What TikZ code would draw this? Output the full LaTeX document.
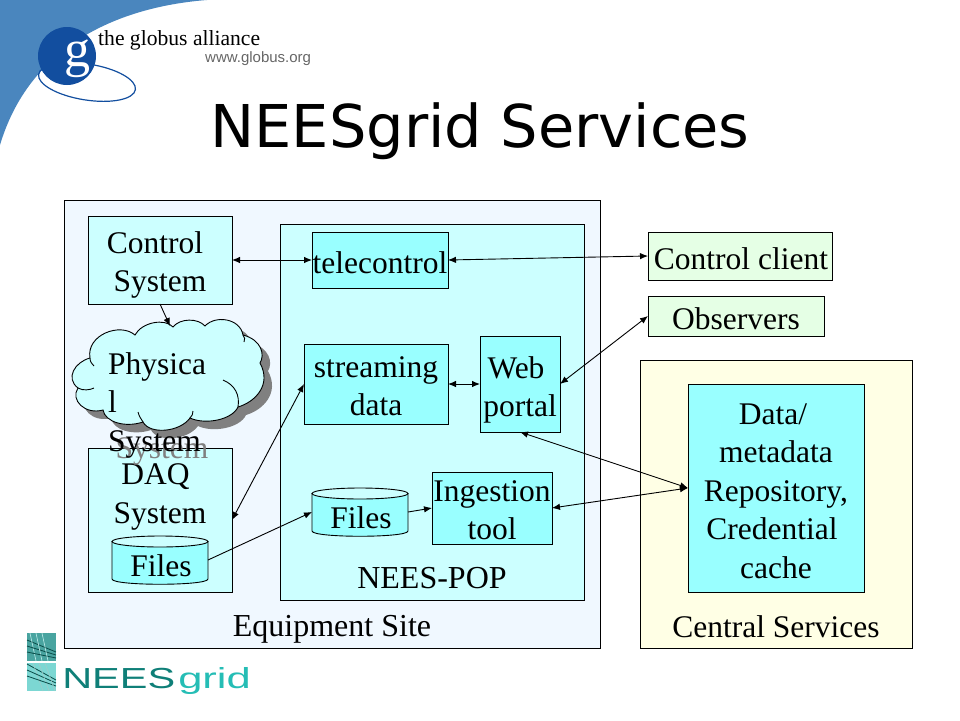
\documentclass[tikz,border=0pt]{standalone}
\usepackage{fontspec}
\setmainfont{Liberation Serif}
\newfontfamily\titlefont{DejaVu Sans}
\newfontfamily\logofont{Liberation Sans}
\usetikzlibrary{arrows.meta}

\definecolor{sitebg}{HTML}{F0F8FF}
\definecolor{popbg}{HTML}{CCFFFF}
\definecolor{toolbg}{HTML}{99FFFF}
\definecolor{centralbg}{HTML}{FFFFE5}
\definecolor{clientbg}{HTML}{E5FFE5}
\definecolor{swoosh}{HTML}{4A86BE}
\definecolor{globusblue}{HTML}{124E9F}
\definecolor{neesdark}{HTML}{0F7F78}
\definecolor{neeslight}{HTML}{25BDB5}

\tikzset{
  box/.style={draw=black,line width=1pt,inner sep=0pt,outer sep=0pt},
  lbl/.style={inner sep=0pt,outer sep=0pt,align=center,font=\fontsize{31.5pt}{38.5pt}\selectfont},
  lblwide/.style={lbl,font=\fontsize{32pt}{38.5pt}\selectfont},
  link/.style={line width=0.9pt,>={Latex[length=8pt,width=6.5pt]}}
}

% file store: name, centre x, centre y
\newcommand{\filedrum}[3]{
  \draw[line width=0.9pt,fill=toolbg] (#2-48,#3-18.5) -- (#2-48,#3+19)
    .. controls (#2-48,#3+26) and (#2+48,#3+26) .. (#2+48,#3+19) -- (#2+48,#3-18.5) -- cycle;
  \draw[line width=0.9pt,fill=popbg] (#2,#3-18.5) ellipse [x radius=48,y radius=5.5];
  \node[inner sep=0pt,outer sep=0pt,minimum width=96pt,minimum height=48pt] (#1) at (#2,#3) {};
  \node[lbl] (#1txt) at (#2+1,#3+6) {Files};
}

\def\cloudoutline{(90,358) .. controls (86,335) and (120,322) .. (135,335)
  .. controls (142,322) and (165,318) .. (173,327)
  .. controls (180,318) and (198,318) .. (205,326)
  .. controls (215,315) and (240,318) .. (243,335)
  .. controls (262,340) and (265,355) .. (260,363)
  .. controls (272,385) and (255,402) .. (238,407)
  .. controls (232,420) and (205,425) .. (190,418)
  .. controls (180,432) and (150,435) .. (143,422)
  .. controls (125,428) and (105,422) .. (103,410)
  .. controls (85,415) and (70,400) .. (78,388)
  .. controls (65,378) and (75,362) .. (90,358) -- cycle}

\begin{document}
\begin{tikzpicture}[x=1pt,y=-1pt]
  \useasboundingbox (0,0) rectangle (960,720);

  % Globus logo
  \fill[swoosh] (0,0) -- (207,0) .. controls (130,6) and (32,38) .. (0,145) -- cycle;
  \draw[globusblue,line width=1.2pt,rotate around={-9:(87,82)}] (87,82) ellipse [x radius=49,y radius=18];
  \fill[globusblue] (67,56) circle [radius=29];
  \node[inner sep=0pt,text=white,font=\fontsize{52pt}{52pt}\selectfont] (globusg) at (77,59) {g};
  \node[inner sep=0pt,anchor=base west,font=\fontsize{21.6pt}{24pt}\selectfont] (globusname) at (98,45) {the globus alliance};
  \node[inner sep=0pt,anchor=base west,text=black!60,font=\logofont\fontsize{15pt}{15pt}\selectfont] (globusurl) at (205,62) {www.globus.org};

  % Title
  \node[inner sep=0pt,font=\titlefont\fontsize{59pt}{59pt}\selectfont] (title) at (480,131) {NEESgrid Services};

  % Regions
  \node[box,fill=sitebg,minimum width=536pt,minimum height=448pt] (site) at (332,424) {};
  \node[box,fill=popbg,minimum width=304pt,minimum height=376pt] (pop) at (432,412) {};
  \node[box,fill=centralbg,minimum width=272pt,minimum height=288pt] (central) at (776,504) {};
  \node[lblwide] (sitetxt) at (332,629) {Equipment Site};
  \node[lblwide] (poptxt) at (432,578) {NEES-POP};
  \node[lbl] (centraltxt) at (776,627) {Central Services};

  % Equipment site
  \node[box,fill=popbg,minimum width=144pt,minimum height=88pt] (control) at (160,260) {};
  \node[lbl] (controltxt) at (160,265) {\hspace*{-10pt}Control\\System};
  \node[box,fill=popbg,minimum width=144pt,minimum height=144pt] (daq) at (160,520) {};
  \node[lbl] (daqtxt) at (160,497) {\hspace*{-9pt}DAQ\\System};
  \filedrum{daqfiles}{160}{560}

  % Physical system cloud
  \fill[black!50,shift={(8,8)}] \cloudoutline;
  \node[lbl,text=black!50] (cloudshade) at (162,451) {System};
  \draw[fill=popbg,line width=0.9pt] \cloudoutline;
  \draw[line width=0.9pt] (78,388) .. controls (83,391) and (90,390) .. (94,388)
    (90,358) .. controls (90,362) and (92,364) .. (94,366)
    (243,335) .. controls (245,337) and (245,340) .. (244,342)
    (223,380) .. controls (235,385) and (240,395) .. (238,407)
    (143,422) .. controls (141,419) and (139,416) .. (138,412)
    (190,418) .. controls (192,416) and (193,414) .. (193,411);
  \node[lbl,anchor=west,align=left] (cloudtxt) at (108,405) {Physica\\l\\System};
  \coordinate (cloudtop) at (170,326);

  % NEES-POP
  \node[box,fill=toolbg,minimum width=136pt,minimum height=56pt] (telecontrol) at (380,260) {};
  \node[lbl] (telecontroltxt) at (380,263) {telecontrol};
  \node[box,fill=toolbg,minimum width=144pt,minimum height=80pt] (streaming) at (376,384) {};
  \node[lbl] (streamingtxt) at (376,386) {streaming\\data};
  \node[box,fill=toolbg,minimum width=80pt,minimum height=96pt] (portal) at (520,384) {};
  \node[lbl] (portaltxt) at (520,390) {\hspace*{-8pt}Web\\portal};
  \filedrum{popfiles}{360}{512}
  \node[box,fill=toolbg,minimum width=120pt,minimum height=72pt] (ingest) at (492,508) {};
  \node[lbl] (ingesttxt) at (492,510) {Ingestion\\tool};

  % Outside the site
  \node[box,fill=clientbg,minimum width=184pt,minimum height=48pt] (client) at (740,256) {};
  \node[lbl] (clienttxt) at (741,259) {Control client};
  \node[box,fill=clientbg,minimum width=176pt,minimum height=40pt] (observers) at (736,316) {};
  \node[lbl] (observerstxt) at (736,319) {Observers};
  \node[box,fill=toolbg,minimum width=176pt,minimum height=208pt] (repo) at (776,488) {};
  \node[lbl] (repotxt) at (776,491) {\hspace*{-6pt}Data/\\metadata\\Repository,\\\hspace*{-8pt}Credential\\cache};

  % Connectors
  \draw[link,<->] (control.east) -- (telecontrol.west);
  \draw[link,<->] (telecontrol.east) -- (client.west);
  \draw[link,->] (control.south) -- (cloudtop);
  \draw[link,<->] (streaming.east) -- (portal.west);
  \draw[link,<->] (portal.east) -- (observers.west);
  \draw[link,<->] (daq.east) -- (streaming.west);
  \draw[link,->] (daqfiles.east) -- (popfiles.west);
  \draw[link,->] (popfiles.east) -- (ingest.west);
  \draw[link,<->] (ingest.east) -- (repo.west);
  \draw[link,<->] (portal.south) -- (repo.west);

  % NEESgrid logo
  \fill[neeslight!75!black!80!white] (27,633) rectangle (56,661);
  \fill[neeslight!60!white] (27,663) rectangle (56,691);
  \foreach \i in {0,6,12} {
    \draw[neesdark!60!black,line width=0.8pt] (27,640+\i) -- (56,652+\i/2);
    \draw[neesdark!60!black,line width=0.8pt] (27,664+\i) -- (56,680+\i/2);
    \draw[white!70!neeslight,line width=0.6pt] (30+\i,633) -- (36+\i,661);
    \draw[white!60!neesdark,line width=0.6pt] (33+\i,663) -- (43+\i,691);
  }
  \node[inner sep=0pt,anchor=base west,xscale=1.43,text=neesdark,font=\logofont\fontsize{29pt}{29pt}\selectfont] (logonees) at (62,688) {NEES};
  \node[inner sep=0pt,anchor=base west,xscale=1.5,text=neeslight,font=\logofont\fontsize{29pt}{29pt}\selectfont] (logogrid) at (178,688) {grid};
\end{tikzpicture}
\end{document}
